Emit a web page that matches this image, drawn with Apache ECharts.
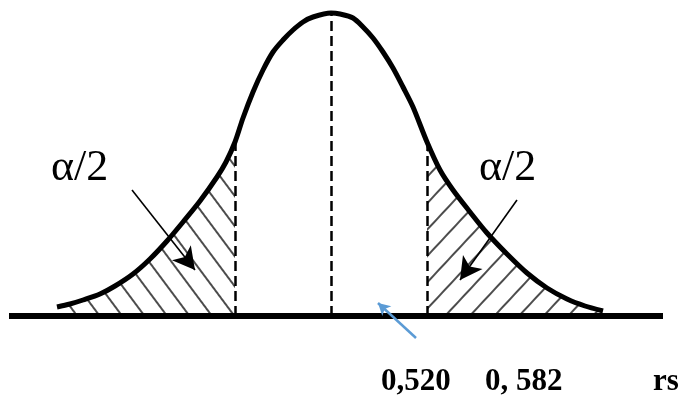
<!DOCTYPE html>
<html>
<head>
<meta charset="utf-8">
<script src="https://cdn.jsdelivr.net/npm/echarts@6/dist/echarts.min.js"></script>
<style>
  html, body { margin: 0; padding: 0; background: #fff; }
  #chart { width: 679px; height: 398px; }
</style>
</head>
<body>
<div id="chart"></div>
<script>
// Bell curve of the rs sampling distribution, x measured from the centre, y above the base line
const curveX = [-274, -261, -248, -231, -216, -198, -181, -164, -148, -131, -114, -105, -96, -88, -78, -68, -58, -48, -38, -28, -18, 0,
                9, 22, 32, 42, 52, 62, 72, 82, 96, 109, 122, 139, 156, 176, 196, 216, 236, 254, 272];
const curveY = [9, 12, 16, 22, 30, 42, 57, 75, 94, 115, 139, 154, 174, 198, 224, 246, 264, 276, 286, 294, 299, 303,
                302, 298, 289, 278, 264, 248, 229, 209, 174, 146, 126, 104, 83, 62, 43, 28, 17, 10, 5];

// Critical values (index into the curve arrays) bounding the rejection tails, and the centre
const leftCritIdx = 12;
const centreIdx = 21;
const rightCritIdx = 30;

// Base line extent
const baseX = [-322, 332];

// Pointers from the α/2 labels into each tail: [start, tip]
const leftPointer = [[-199, 126], [-136, 46]];
const rightPointer = [[186, 116], [129, 36]];
// Blue arrow pointing at the base line
const bluePointer = [[85, -22], [47, 13]];

// Text labels
const tailLabel = 'α/2';
const valueLabels = ['0,520', '0, 582', 'rs'];

const pts = curveX.map((x, i) => [x, curveY[i]]);
const leftTail = pts.slice(0, leftCritIdx + 1);
const rightTail = pts.slice(rightCritIdx);

function vline(idx) {
  return [{ coord: [curveX[idx], 0] }, { coord: [curveX[idx], curveY[idx]] }];
}

function hatch(rotation) {
  return {
    color: '#000',
    symbol: 'rect',
    symbolSize: 1,
    dashArrayX: [1, 0],
    dashArrayY: [2, 16],
    rotation: rotation
  };
}

const chart = echarts.init(document.getElementById('chart'), null, { renderer: 'canvas' });

chart.setOption({
  backgroundColor: '#fff',
  animation: false,
  grid: { left: 0, right: 0, top: 0, bottom: 0 },
  xAxis: { type: 'value', min: -331, max: 348, show: false },
  yAxis: { type: 'value', min: -82, max: 316, show: false },
  series: [
    {
      name: 'left tail',
      type: 'line',
      data: leftTail,
      smooth: 0.3,
      symbol: 'none',
      lineStyle: { width: 0 },
      itemStyle: { decal: hatch(0.93) },
      areaStyle: { color: 'rgba(255,255,255,0)', origin: 0 },
      z: 1
    },
    {
      name: 'right tail',
      type: 'line',
      data: rightTail,
      smooth: 0.3,
      symbol: 'none',
      lineStyle: { width: 0 },
      itemStyle: { decal: hatch(-0.82) },
      areaStyle: { color: 'rgba(255,255,255,0)', origin: 0 },
      z: 1
    },
    {
      name: 'base',
      type: 'line',
      data: baseX.map(x => [x, 0]),
      symbol: 'none',
      lineStyle: { color: '#000', width: 6 },
      z: 3
    },
    {
      name: 'curve',
      type: 'line',
      data: pts,
      smooth: 0.3,
      symbol: 'none',
      lineStyle: { color: '#000', width: 5 },
      z: 4,
      markLine: {
        silent: true,
        symbol: ['none', 'none'],
        label: { show: false },
        lineStyle: { color: '#000', width: 2.5, type: [10, 5] },
        data: [vline(leftCritIdx), vline(centreIdx), vline(rightCritIdx)]
      }
    },
    {
      name: 'pointers',
      type: 'line',
      data: [],
      z: 5,
      markLine: {
        silent: true,
        symbol: ['none', 'arrow'],
        symbolSize: [18, 22],
        label: { show: false },
        lineStyle: { color: '#000', width: 1.6, type: 'solid' },
        data: [
          [{ coord: leftPointer[0] }, { coord: leftPointer[1] }],
          [{ coord: rightPointer[0] }, { coord: rightPointer[1] }]
        ]
      }
    },
    {
      name: 'blue pointer',
      type: 'line',
      data: [],
      z: 5,
      markLine: {
        silent: true,
        symbol: ['none', 'arrow'],
        symbolSize: [10, 12],
        label: { show: false },
        lineStyle: { color: '#5b9bd5', width: 2.5, type: 'solid' },
        data: [[{ coord: bluePointer[0] }, { coord: bluePointer[1] }]]
      }
    }
  ],
  graphic: [
    { type: 'text', x: 51, y: 168, style: { text: tailLabel, font: '44px "Liberation Serif"', fill: '#000', verticalAlign: 'middle' } },
    { type: 'text', x: 479, y: 168, style: { text: tailLabel, font: '44px "Liberation Serif"', fill: '#000', verticalAlign: 'middle' } },
    { type: 'text', x: 381, y: 382, style: { text: valueLabels[0], font: 'bold 31px "Liberation Serif"', fill: '#000', verticalAlign: 'middle' } },
    { type: 'text', x: 485, y: 382, style: { text: valueLabels[1], font: 'bold 31px "Liberation Serif"', fill: '#000', verticalAlign: 'middle' } },
    { type: 'text', x: 653, y: 382, style: { text: valueLabels[2], font: 'bold 31px "Liberation Serif"', fill: '#000', verticalAlign: 'middle' } }
  ]
});
</script>
</body>
</html>
